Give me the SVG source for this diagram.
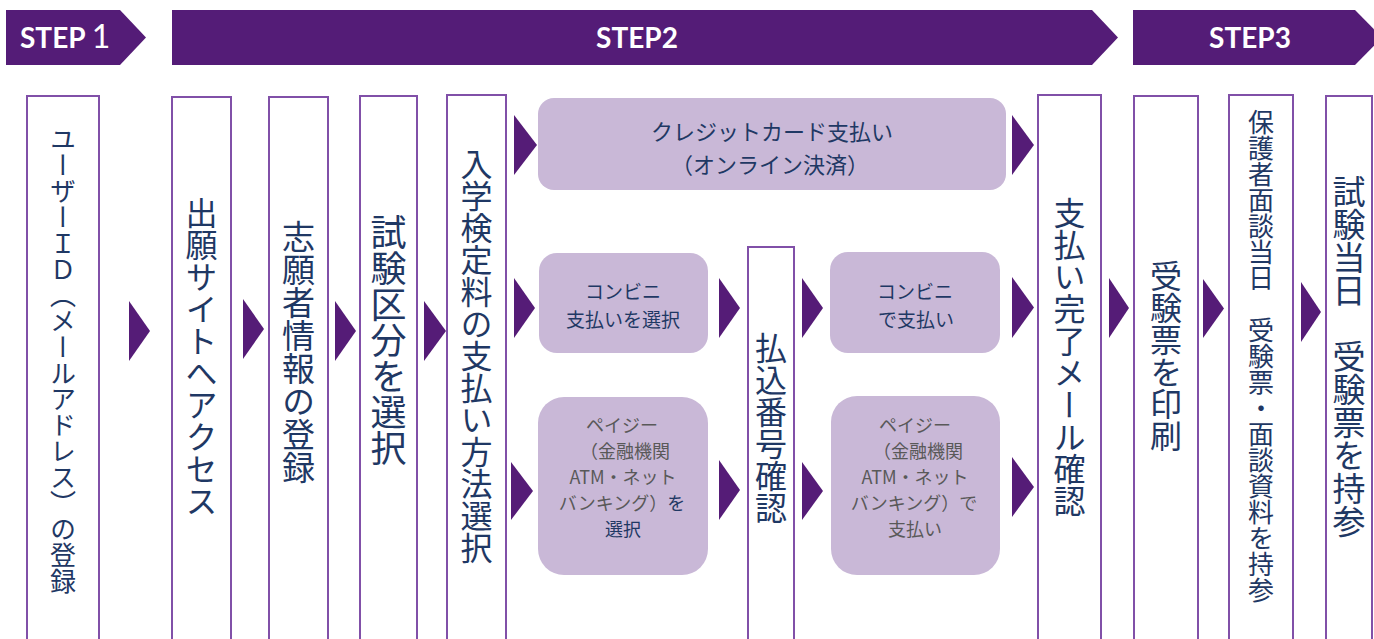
<svg xmlns="http://www.w3.org/2000/svg" width="1374" height="639" viewBox="0 0 1374 639">
<style>
.banner{fill:#541c77}
.step{font-family:Lato,"Open Sans","Liberation Sans",sans-serif;font-weight:bold;fill:#ffffff;font-size:28px}
.box{fill:#ffffff;stroke:#8150a8;stroke-width:2}
.rbox{fill:#c9b8d7}
.vt{font-family:"Noto Sans CJK JP","Noto Sans",sans-serif;fill:#1f3864;writing-mode:vertical-rl;text-anchor:middle}
.ht{font-family:"Noto Sans CJK JP","Noto Sans",sans-serif;fill:#1f3864;text-anchor:middle}
.pe{font-size:18px}
.cv{font-size:19px}
.gray{fill:#595959}
.arr{fill:#551c77}
</style>
<g id="banners">
<polygon class="banner" points="6,10 120,10 146,37.5 120,65 6,65"/>
<text class="step" x="20" y="48">STEP <tspan font-size="32" font-weight="normal">1</tspan></text>
<polygon class="banner" points="172,10 1092,10 1118,37.5 1092,65 172,65"/>
<text class="step" x="637" y="48" text-anchor="middle">STEP2</text>
<polygon class="banner" points="1133,10 1355,10 1382,37.5 1355,65 1133,65"/>
<text class="step" x="1250" y="48" text-anchor="middle">STEP3</text>
</g>
<g id="n1"><rect class="box" x="27" y="96" width="72" height="560"/><text class="vt" x="63" y="360" font-size="26">ユーザーＩＤ（メールアドレス）の登録</text></g>
<g id="n2"><rect class="box" x="172" y="97" width="59" height="560"/><text class="vt" x="201.5" y="357" font-size="32">出願サイトへアクセス</text></g>
<g id="n3"><rect class="box" x="269" y="97" width="59" height="560"/><text class="vt" x="298.5" y="352" font-size="33">志願者情報の登録</text></g>
<g id="n4"><rect class="box" x="360" y="96" width="57" height="560"/><text class="vt" x="388.5" y="340" font-size="36">試験区分を選択</text></g>
<g id="n5"><rect class="box" x="447" y="95" width="59" height="560"/><text class="vt" x="476.5" y="356" font-size="32">入学検定料の支払い方法選択</text></g>
<g id="credit"><rect class="rbox" x="538" y="98" width="468" height="92" rx="16"/><text class="ht" x="772" y="140" font-size="22">クレジットカード支払い</text><text class="ht" x="770" y="173" font-size="22">（オンライン決済）</text></g>
<g id="conv-select"><rect class="rbox" x="539" y="253" width="169" height="100" rx="18"/><text class="ht cv" x="623" y="299">コンビニ</text><text class="ht cv" x="623" y="327">支払いを選択</text></g>
<g id="payeasy-select"><rect class="rbox" x="538" y="397" width="170" height="178" rx="26"/>
<text class="ht gray pe" x="622" y="432">ペイジー</text>
<text class="ht gray pe" x="625" y="458">（金融機関</text>
<text class="ht gray pe" x="623" y="484">ATM・ネット</text>
<text class="ht gray pe" x="622" y="510">バンキング）<tspan fill="#1f3864">を</tspan></text>
<text class="ht pe" x="623" y="536">選択</text></g>
<g id="n-furikomi"><rect class="box" x="748" y="247" width="46" height="420"/><text class="vt" x="771" y="428" font-size="32">払込番号確認</text></g>
<g id="conv-pay"><rect class="rbox" x="830" y="252" width="170" height="101" rx="18"/><text class="ht cv" x="915" y="299">コンビニ</text><text class="ht cv" x="916" y="327">で支払い</text></g>
<g id="payeasy-pay"><rect class="rbox" x="831" y="396" width="169" height="179" rx="26"/>
<text class="ht gray pe" x="915" y="432">ペイジー</text>
<text class="ht gray pe" x="918" y="458">（金融機関</text>
<text class="ht gray pe" x="915" y="484">ATM・ネット</text>
<text class="ht gray pe" x="914" y="510">バンキング）で</text>
<text class="ht gray pe" x="915" y="536">支払い</text></g>
<g id="n-done"><rect class="box" x="1038" y="95" width="63" height="560"/><text class="vt" x="1069.5" y="357" font-size="32">支払い完了メール確認</text></g>
<g id="n-print"><rect class="box" x="1134" y="96" width="64" height="560"/><text class="vt" x="1166" y="356" font-size="32">受験票を印刷</text></g>
<g id="n-interview"><rect class="box" x="1229" y="95" width="64" height="560"/><text class="vt" x="1261" y="356" font-size="26">保護者面談当日　受験票・面談資料を持参</text></g>
<g id="n-exam"><rect class="box" x="1326" y="96" width="46" height="560"/><text class="vt" x="1349" y="356" font-size="33">試験当日　受験票を持参</text></g>
<g id="connectors">
<polygon class="arr" points="129,301 150,331 129,361"/>
<polygon class="arr" points="243,299 264,329 243,359"/>
<polygon class="arr" points="335,301 356,331 335,361"/>
<polygon class="arr" points="424,301 446,331 424,361"/>
<polygon class="arr" points="514,115 537,145 514,175"/>
<polygon class="arr" points="514,278 535,308 514,338"/>
<polygon class="arr" points="511,462 533,491 511,520"/>
<polygon class="arr" points="719,278 740,308 719,338"/>
<polygon class="arr" points="719,460 740,490 719,520"/>
<polygon class="arr" points="802,278 823,308 802,338"/>
<polygon class="arr" points="802,462 823,491 802,520"/>
<polygon class="arr" points="1012,115 1034,145 1012,175"/>
<polygon class="arr" points="1012,277 1034,307.5 1012,338"/>
<polygon class="arr" points="1012,457 1034,487 1012,517"/>
<polygon class="arr" points="1109,278 1129,308 1109,338"/>
<polygon class="arr" points="1203,279 1224,308.5 1203,338"/>
<polygon class="arr" points="1301,282 1321,312 1301,342"/>
</g>
</svg>
